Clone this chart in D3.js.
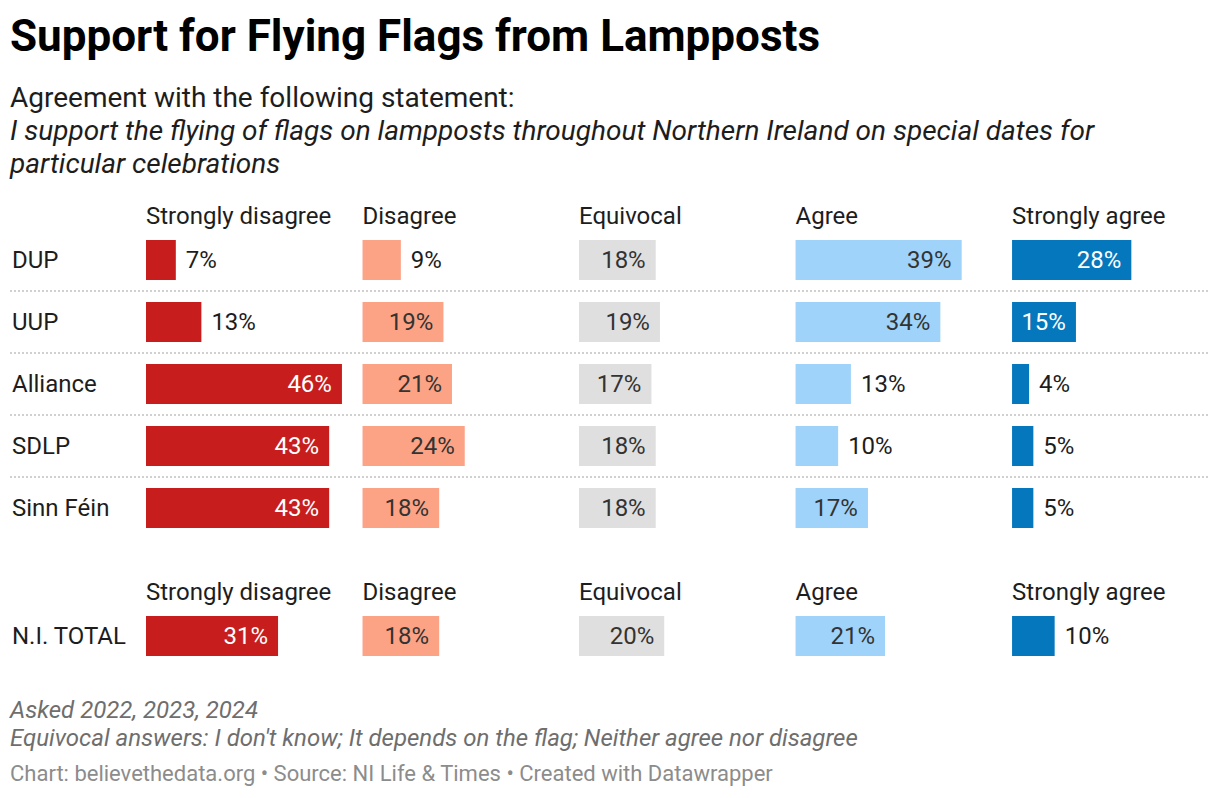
<!DOCTYPE html>
<html>
<head>
<meta charset="utf-8">
<script src="https://cdn.jsdelivr.net/npm/d3@7"></script>
<style>
  body { margin: 0; background: #fff; }
  svg { font-family: Roboto, sans-serif; display: block; }
</style>
</head>
<body>
<script>
const width = 1220;
const height = 798;

// data
const parties = ["DUP", "UUP", "Alliance", "SDLP", "Sinn Féin"];
const categories = ["Strongly disagree", "Disagree", "Equivocal", "Agree", "Strongly agree"];
const stronglyDisagree = [7, 13, 46, 43, 43];
const disagree = [9, 19, 21, 24, 18];
const equivocal = [18, 19, 17, 18, 18];
const agree = [39, 34, 13, 10, 17];
const stronglyAgree = [28, 15, 4, 5, 5];
const totalLabel = "N.I. TOTAL";
const totalValues = [31, 18, 20, 21, 10];

const colors = ["#c71e1d", "#fca386", "#dfdfdf", "#9fd3f9", "#0477bd"];
const darkBars = [true, false, false, false, true];

const series = [stronglyDisagree, disagree, equivocal, agree, stronglyAgree];
const fs = 24;

const svg = d3.select("body").append("svg")
  .attr("width", width)
  .attr("height", height);

// header texts
svg.append("text")
  .attr("x", 10).attr("y", 51)
  .attr("font-size", 44).attr("font-weight", 700).attr("fill", "#000")
  .text("Support for Flying Flags from Lampposts");

svg.append("text")
  .attr("x", 10).attr("y", 107)
  .attr("font-size", 28).attr("fill", "#1d1d1d")
  .text("Agreement with the following statement:");

const italicLines = [
  "I support the flying of flags on lampposts throughout Northern Ireland on special dates for",
  "particular celebrations"
];
svg.append("g").selectAll("text")
  .data(italicLines)
  .enter()
  .append("text")
  .attr("x", 10)
  .attr("y", (d, i) => 140 + i * 33)
  .attr("font-size", 28).attr("font-style", "italic").attr("fill", "#1d1d1d")
  .text(d => d);

// scales
const panel = d3.scaleBand()
  .domain(categories)
  .range([146, 1208])
  .paddingInner(0.095)
  .paddingOuter(0);

const x = d3.scaleLinear()
  .domain([0, d3.max(series.flat().concat(totalValues))])
  .range([0, panel.bandwidth()]);

const y = d3.scaleBand()
  .domain(parties)
  .range([240, 528])
  .paddingInner(22 / 62)
  .paddingOuter(0);

// draw one block of rows with its header line
function block(rows, yScale, headerY) {
  const g = svg.append("g");

  g.selectAll(".head")
    .data(categories)
    .enter()
    .append("text")
    .attr("x", d => panel(d))
    .attr("y", headerY)
    .attr("font-size", fs).attr("fill", "#1d1d1d")
    .text(d => d);

  // dotted separators between rows
  const names = rows.map(r => r.name);
  g.selectAll(".sep")
    .data(names.slice(1))
    .enter()
    .append("line")
    .attr("x1", 10).attr("x2", 1208)
    .attr("y1", d => yScale(d) - yScale.step() * yScale.paddingInner() / 2)
    .attr("y2", d => yScale(d) - yScale.step() * yScale.paddingInner() / 2)
    .attr("stroke", "#d0d0d0")
    .attr("stroke-width", 2)
    .attr("stroke-dasharray", "2,2");

  const row = g.selectAll(".row")
    .data(rows)
    .enter()
    .append("g")
    .attr("transform", d => `translate(0,${yScale(d.name)})`);

  row.append("text")
    .attr("x", 12)
    .attr("y", yScale.bandwidth() / 2)
    .attr("dy", "0.35em")
    .attr("font-size", fs).attr("fill", "#1d1d1d")
    .text(d => d.name);

  const cell = row.selectAll(".cell")
    .data(d => d.values.map((v, i) => ({ v, i })))
    .enter()
    .append("g")
    .attr("transform", d => `translate(${panel(categories[d.i])},0)`);

  cell.append("rect")
    .attr("width", d => x(d.v))
    .attr("height", yScale.bandwidth())
    .attr("fill", d => colors[d.i]);

  // label goes inside the bar when it fits, otherwise just past its end
  cell.append("text")
    .attr("y", yScale.bandwidth() / 2)
    .attr("dy", "0.35em")
    .attr("font-size", fs)
    .text(d => d.v + "%")
    .each(function(d) {
      const t = d3.select(this);
      const w = this.getComputedTextLength();
      const bw = x(d.v);
      if (bw >= w + 15) {
        t.attr("x", bw - 10).attr("text-anchor", "end")
          .attr("fill", darkBars[d.i] ? "#fff" : "#333");
      } else {
        t.attr("x", bw + 10).attr("text-anchor", "start").attr("fill", "#1d1d1d");
      }
    });
}

block(parties.map((p, j) => ({ name: p, values: series.map(s => s[j]) })), y, 224);

const yTotal = d3.scaleBand()
  .domain([totalLabel])
  .range([616, 656])
  .paddingInner(0)
  .paddingOuter(0);

block([{ name: totalLabel, values: totalValues }], yTotal, 600);

// notes and source
const notes = [
  "Asked 2022, 2023, 2024",
  "Equivocal answers: I don't know; It depends on the flag; Neither agree nor disagree"
];
svg.append("g").selectAll("text")
  .data(notes)
  .enter()
  .append("text")
  .attr("x", 10)
  .attr("y", (d, i) => 718 + i * 28)
  .attr("font-size", fs).attr("font-style", "italic").attr("fill", "#6e6e6e")
  .text(d => d);

svg.append("text")
  .attr("x", 10).attr("y", 781)
  .attr("font-size", 22).attr("fill", "#8c8c8c")
  .text("Chart: believethedata.org • Source: NI Life & Times • Created with Datawrapper");
</script>
</body>
</html>
